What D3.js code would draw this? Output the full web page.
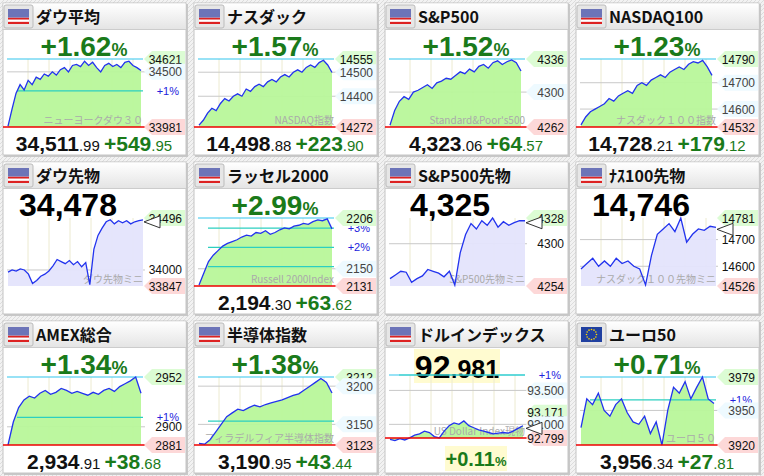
<!DOCTYPE html>
<html><head><meta charset="utf-8">
<script src="https://cdn.jsdelivr.net/npm/d3@7"></script>
<style>body{margin:0;background:#fff}svg{display:block}</style></head>
<body><svg id="c" width="764" height="476"></svg>
<script>
const titles=["ダウ平均","ナスダック","S&P500","NASDAQ100","ダウ先物","ラッセル2000","S&P500先物","ﾅｽ100先物","AMEX総合","半導体指数","ドルインデックス","ユーロ50"];
const heads=[["+1.62","%"],["+1.57","%"],["+1.52","%"],["+1.23","%"],["34,478",""],["+2.99","%"],["4,325",""],["14,746",""],["+1.34","%"],["+1.38","%"],["92",".981"],["+0.71","%"]];
const footers=[["34,511",".99","+549",".95"],["14,498",".88","+223",".90"],["4,323",".06","+64",".57"],["14,728",".21","+179",".12"],null,["2,194",".30","+63",".62"],null,null,["2,934",".91","+38",".68"],["3,190",".95","+43",".44"],["+0.11%"],["3,956",".34","+27",".81"]];
const watermarks=["ニューヨークダウ３０","NASDAQ指数","Standard&Poor's500","ナスダック１００指数","ダウ先物ミニ","Russell 2000Index","S&P500先物ミニ","ナスダック１００先物ミニ","","フィラデルフィア半導体指数","US Dollar Index現物","ユーロ５０"];
const lows=[33981,14272,4262,14532,33847,2131,4254,14526,2881,3123,92.799,3920];
const highs=[34621,14555,4336,14790,34496,2206,4328,14781,2952,3212,93.727,3979];
const gridTicks=[[34500],[14500,14400],[4300],[14700,14600],[34000],[2150],[4300],[14700,14600],[2900],[3200,3150],[93.500,93.000],[3950]];
const pctTicks=[[1],[],[],[],[],[1,2,3],[],[],[1],[1],[1],[1]];
const s0=[33990,34150,34300,34380,34330,34420,34380,34450,34430,34480,34460,34500,34470,34520,34540,34500,34560,34570,34550,34600,34560,34590,34540,34500,34560,34580,34550,34570,34540,34590,34600,34560,34540,34512];
const s1=[14280,14300,14330,14350,14340,14370,14390,14380,14400,14410,14400,14430,14420,14440,14450,14440,14460,14470,14460,14480,14490,14480,14500,14510,14500,14520,14530,14520,14540,14550,14530,14499];
const s2=[4264,4280,4290,4295,4292,4300,4302,4305,4308,4304,4310,4312,4315,4314,4318,4322,4320,4325,4322,4328,4330,4326,4332,4334,4330,4333,4335,4332,4323];
const s3=[14540,14570,14590,14600,14610,14620,14640,14630,14650,14660,14670,14660,14690,14700,14690,14710,14720,14730,14720,14740,14750,14760,14750,14770,14780,14775,14785,14760,14728];
const s4=[33980,34000,33990,34010,34000,33960,33870,33900,33940,33960,33990,34040,34100,34080,34060,34090,34050,34080,34030,34070,33860,34200,34330,34400,34460,34480,34440,34470,34450,34470,34440,34460,34470,34478];
const s5=[2132,2145,2158,2165,2170,2175,2178,2180,2182,2185,2187,2186,2190,2189,2192,2188,2190,2193,2195,2194,2197,2198,2200,2199,2202,2204,2203,2205,2194];
const s6=[4262,4266,4270,4269,4258,4262,4265,4272,4270,4268,4264,4270,4255,4290,4310,4322,4316,4325,4320,4328,4318,4324,4320,4323,4325,4325];
const s7=[14590,14610,14630,14600,14620,14600,14630,14610,14620,14600,14590,14530,14640,14720,14740,14760,14730,14781,14690,14720,14740,14735,14750,14746];
const s8=[2881,2905,2920,2928,2932,2930,2935,2938,2934,2936,2940,2938,2935,2937,2935,2933,2936,2934,2938,2940,2937,2942,2945,2948,2952,2935];
const s9=[3125,3124,3130,3140,3150,3160,3165,3170,3168,3172,3175,3173,3176,3178,3180,3182,3185,3188,3190,3195,3200,3205,3210,3205,3191];
const s10=[92.78,92.76,92.79,92.77,92.80,92.84,92.86,92.90,92.88,92.82,92.80,92.90,92.98,93.02,93.00,93.05,92.98,92.95,92.92,92.90,92.88,92.86,92.87,92.88,92.87,92.90,92.94,92.98];
const s11=[3935,3960,3955,3965,3950,3945,3955,3960,3948,3940,3938,3945,3930,3940,3920,3950,3970,3965,3975,3960,3970,3979,3960,3956];
const series=[s0,s1,s2,s3,s4,s5,s6,s7,s8,s9,s10,s11];
const futures=[4,6,7];

const svg=d3.select("#c");
const defs=svg.append("defs");
const pat=defs.append("pattern").attr("id","hatch").attr("width",4).attr("height",4).attr("patternUnits","userSpaceOnUse");
pat.append("rect").attr("width",4).attr("height",4).attr("fill","#f2f2f2");
pat.append("path").attr("d","M0,4L4,0").attr("stroke","#dcdcdc").attr("stroke-width",1);
const tg=defs.append("linearGradient").attr("id","tbar").attr("x1",0).attr("x2",0).attr("y1",0).attr("y2",1);
tg.append("stop").attr("offset","0").attr("stop-color","#ffffff");
tg.append("stop").attr("offset","1").attr("stop-color","#e4e4e4");
svg.append("rect").attr("width",764).attr("height",476).attr("fill","url(#hatch)");
const F="'Noto Sans CJK JP','DejaVu Sans',sans-serif";
const N="Arial,'Liberation Sans',sans-serif";

function flag(g,euro){
  g.append("rect").attr("x",4).attr("y",5).attr("width",29).attr("height",23).attr("rx",2).attr("fill","#e6e6e6").attr("stroke","#bbb");
  if(euro){
    g.append("rect").attr("x",8).attr("y",9).attr("width",21).attr("height",15).attr("fill","#2040a0");
    for(let k=0;k<12;k++){const a=k*Math.PI/6;g.append("circle").attr("cx",18.5+5*Math.cos(a)).attr("cy",16.5+5*Math.sin(a)).attr("r",0.8).attr("fill","#ffd700");}
  } else {
    for(let k=0;k<7;k++) g.append("rect").attr("x",8).attr("y",9+k*15/7).attr("width",21).attr("height",15/7).attr("fill",k%2?"#fff":"#d22");
    g.append("rect").attr("x",8).attr("y",9).attr("width",21).attr("height",8.5).attr("fill","#6c74b8");
  }
}
function tagLabel(g,x,y,txt,bg,col){
  if(bg){g.append("path").attr("d",`M${x-38},${y} L${x-30},${y-8} L${x+3},${y-8} L${x+3},${y+8} L${x-30},${y+8}Z`).attr("fill",bg);}
  g.append("text").attr("x",x).attr("y",y+4.5).attr("text-anchor","end").attr("font-family",N).attr("font-size",12).attr("fill",col).text(txt);
}

titles.forEach((t,i)=>{
  const col=i%4,row=Math.floor(i/4);
  const g=svg.append("g").attr("transform",`translate(${col*191},${row*159})`);
  const fut=futures.includes(i), dx=i===10;
  g.append("rect").attr("x",4).attr("y",4).attr("width",184).attr("height",153).attr("fill","#c8c8c8");
  g.append("rect").attr("x",3).attr("y",3).attr("width",183).attr("height",152).attr("fill","#fff").attr("stroke","#c4c4c4");
  g.append("rect").attr("x",3.5).attr("y",3.5).attr("width",182).attr("height",26).attr("fill","url(#tbar)");
  g.append("line").attr("x1",3).attr("x2",186).attr("y1",29.5).attr("y2",29.5).attr("stroke","#ccc");
  flag(g,i===11);
  g.append("text").attr("x",36).attr("y",23).attr("font-family",F).attr("font-weight","bold").attr("font-size",16).attr("fill","#111").text(t);
  // headline
  const h=heads[i];
  if(dx) g.append("rect").attr("x",32).attr("y",31).attr("width",86).attr("height",34).attr("fill","#fffbd0");
  const ht=g.append("text").attr("x",dx?75:(fut?68:84)).attr("y",dx?60:(fut?57:56)).attr("text-anchor","middle").attr("font-family",N).attr("font-weight","bold");
  const pos=h[0][0]==="+";
  ht.append("tspan").attr("font-size",fut||dx?32:28).attr("fill",pos?"#1a7a1a":"#000").text(h[0]);
  if(h[1]) ht.append("tspan").attr("font-size",h[1]==="%"?18:25).attr("fill",pos?"#1a7a1a":"#000").text(h[1]);
  // plot geometry
  const x0=7, x1=143, top=dx?57:(fut?59:59), bot=dx?120:127;
  const y=d3.scaleLinear().domain([lows[i],highs[i]]).range([bot,top]);
  const s=series[i];
  const xEnd=fut? x1 : x1-(i===3||i===2?4:2);
  const x=d3.scaleLinear().domain([0,s.length-1]).range([x0+1,xEnd]);
  for(let vx=x0+21;vx<x1;vx+=21) g.append("line").attr("x1",vx).attr("x2",vx).attr("y1",top).attr("y2",bot).attr("stroke","#ecead0");
  gridTicks[i].forEach(v=>{g.append("line").attr("x1",x0).attr("x2",x1+2).attr("y1",y(v)).attr("y2",y(v)).attr("stroke","#c8c8c8");});
  const area=d3.area().x((d,k)=>x(k)).y0(fut?bot:y(lows[i])).y1(d=>y(d));
  const fillCol=fut?"#e4e4fc":"#b8f79a";
  g.append("path").datum(s).attr("d",area).attr("fill",fillCol).attr("opacity",0.95);
  g.append("text").attr("x",x1).attr("y",bot-3).attr("text-anchor","end").attr("font-family",F).attr("font-size",10).attr("fill","#aaa").text(watermarks[i]);
  if(!fut){
    g.append("line").attr("x1",x0).attr("x2",x1).attr("y1",y(highs[i])).attr("y2",y(highs[i])).attr("stroke","#33c6ee").attr("stroke-width",1.2);
    pctTicks[i].forEach(p=>{const v=lows[i]*(1+p/100);if(v<highs[i]||dx){g.append("line").attr("x1",x0+10).attr("x2",x1).attr("y1",y(v)).attr("y2",y(v)).attr("stroke","#2ccfc0").attr("stroke-width",1.2);
      g.append("text").attr("x",179).attr("y",y(v)+4).attr("text-anchor","end").attr("font-family",N).attr("font-size",11).attr("fill","#2222dd").text("+"+p+"%");}});
  }
  g.append("path").datum(s).attr("d",d3.line().x((d,k)=>x(k)).y(d=>y(d))).attr("fill","none").attr("stroke","#2233ee").attr("stroke-width",1.3);
  if(!fut) g.append("line").attr("x1",3).attr("x2",146).attr("y1",bot).attr("y2",bot).attr("stroke","#e00").attr("stroke-width",1.5);
  const fmt=v=>dx?v.toFixed(3):String(v);
  const hiVal=dx?93.171:highs[i];
  tagLabel(g,182,dx?y(93.171):top,fmt(hiVal),"#dcfcd4","#111");
  gridTicks[i].forEach(v=>tagLabel(g,182,y(v),fmt(v),(fut||i===8)?null:"#eefaff",(fut||i===8)?"#111":"#444"));
  tagLabel(g,182,bot,fmt(lows[i]),"#fdd8d8","#111");
  if(fut||dx){const ty=fut?y(s[s.length-1])+2:y(93.0)+4;
    g.append("path").attr("d",`M${x1+1},${ty} L${x1+17},${ty-6} L${x1+17},${ty+6}Z`).attr("fill","#fff").attr("stroke","#333");}
  const f=footers[i];
  if(f&&!dx){
    const ft=g.append("text").attr("x",94).attr("y",151).attr("text-anchor","middle").attr("font-family",N).attr("font-weight","bold");
    ft.append("tspan").attr("font-size",21).attr("fill","#111").text(f[0]);
    ft.append("tspan").attr("font-size",15).attr("font-weight","normal").attr("fill","#111").text(f[1]+" ");
    ft.append("tspan").attr("font-size",21).attr("fill","#1a7a1a").text(f[2]);
    ft.append("tspan").attr("font-size",15).attr("font-weight","normal").attr("fill","#1a7a1a").text(f[3]);
  } else if(dx){
    g.append("rect").attr("x",63).attr("y",128).attr("width",62).attr("height",25).attr("fill","#fffbd0");
    const ft=g.append("text").attr("x",94).attr("y",148).attr("text-anchor","middle").attr("font-family",N).attr("font-weight","bold").attr("fill","#1a7a1a");
    ft.append("tspan").attr("font-size",20).text("+0.11");ft.append("tspan").attr("font-size",13).text("%");
  }
});
</script></body></html>
